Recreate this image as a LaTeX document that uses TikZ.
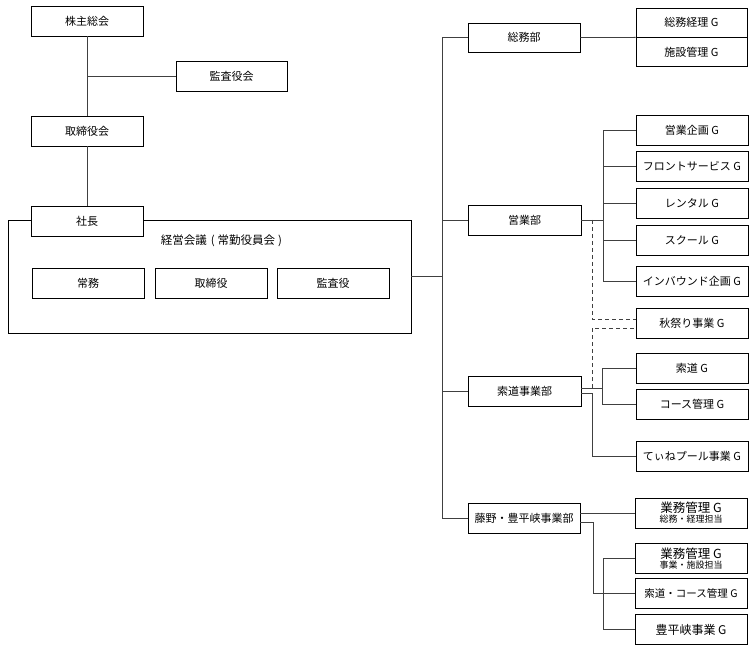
\documentclass[tikz,border=0pt]{standalone}
\usepackage{fontspec}
\setmainfont{Noto Sans CJK JP}
\begin{document}
\begin{tikzpicture}[x=1pt,y=-1pt,
  box/.style={draw=black,line width=0.8pt,fill=white,minimum width=112pt,minimum height=30pt,inner sep=0pt,font=\fontsize{11}{13}\selectfont},
  conn/.style={draw=black!75,line width=0.8pt},
  dconn/.style={conn,dash pattern=on 4pt off 3pt}]
\useasboundingbox (0,0) rectangle (755,652);
% left side
\node[draw=black,line width=0.8pt,minimum width=403pt,minimum height=113pt,inner sep=0pt] (kaigi) at (209.5,276.5) {};
\node[box] (kabu) at (87,21) {株主総会};
\node[box,minimum width=111pt] (kansakai) at (231.5,76) {監査役会};
\node[box] (torikai) at (87,131) {取締役会};
\node[box] (shacho) at (87,221) {社長};
\node[font=\fontsize{11.5}{13}\selectfont,inner sep=0pt] (kaigilabel) at (221.5,241) {経営会議\hspace{4pt}(\hspace{3pt}常勤役員会\hspace{3pt})};
\node[box] (jomu) at (88,283) {常務};
\node[box] (torishimari) at (211,283) {取締役};
\node[box] (kansayaku) at (333,283) {監査役};
\draw[conn] (kabu.south) -- (torikai.north);
\draw[conn] (kansakai.west) -- (kansakai.west -| kabu.south);
\draw[conn] (torikai.south) -- (shacho.north);
% departments
\node[box,minimum height=29pt] (soumu) at (524,37.5) {総務部};
\node[box,minimum width=113pt] (eigyo) at (524.5,220) {営業部};
\node[box,minimum width=113pt] (sakudobu) at (524.5,391) {索道事業部};
\node[box] (fujino) at (524,518) {藤野・豊平峡事業部};
\draw[conn] (soumu.west) -- ++(-25,0) coordinate (vtop) |- (fujino.west);
\draw[conn] (eigyo.west) -- (eigyo.west -| vtop);
\draw[conn] (sakudobu.west) -- (sakudobu.west -| vtop);
\draw[conn] (kaigi.east) -- (kaigi.east -| vtop);
% soumu groups
\node[box,minimum width=111pt,minimum height=29pt] (keiri) at (691.5,22.5) {総務経理 G};
\node[box,minimum width=111pt,minimum height=29pt] (shisetsu) at (691.5,52) {施設管理 G};
\draw[conn] (soumu.east) -- (keiri.south west);
% eigyo groups
\node[box] (e1) at (692,130) {営業企画 G};
\node[box] (e2) at (692,166) {フロントサービス G};
\node[box] (e3) at (692,203.5) {レンタル G};
\node[box] (e4) at (692,240.5) {スクール G};
\node[box] (e5) at (692,281) {インバウンド企画 G};
\node[box] (aki) at (692,323) {秋祭り事業 G};
\draw[conn] (e1.west) -- ++(-32,0) coordinate (ebus) |- (e5.west);
\draw[conn] (e2.west) -- (e2.west -| ebus);
\draw[conn] (e3.west) -- (e3.west -| ebus);
\draw[conn] (e4.west) -- (e4.west -| ebus);
\draw[conn] (eigyo.east) -- (eigyo.east -| ebus);
\draw[dconn] ([xshift=11pt]eigyo.east) |- ([yshift=4pt]aki.west);
% sakudo groups
\node[box] (sakudo) at (692,368.5) {索道 G};
\node[box] (course) at (692,404) {コース管理 G};
\node[box] (tine) at (692,456.5) {てぃねプール事業 G};
\draw[conn] (sakudo.west) -- ++(-33,0) coordinate (sbus) |- (course.west);
\draw[conn] ([yshift=3pt]sakudobu.east) -- ([yshift=3pt]sakudobu.east -| sbus);
\draw[conn] ([yshift=-2pt]sakudobu.east) -- ++(11,0) |- (tine.west);
\draw[dconn] ([xshift=11pt,yshift=3pt]sakudobu.east) |- ([yshift=-5pt]aki.west);
% fujino groups
\node[box,align=center] (g1) at (691,513) {{\fontsize{12.5}{13}\selectfont 業務管理 G}\\[-3pt]{\fontsize{9}{9}\selectfont 総務・経理担当}};
\node[box,align=center] (g2) at (691,558.5) {{\fontsize{12.5}{13}\selectfont 業務管理 G}\\[-3pt]{\fontsize{9}{9}\selectfont 事業・施設担当}};
\node[box,font=\fontsize{10.5}{13}\selectfont] (g3) at (691,593.5) {索道・コース管理 G};
\node[box,font=\fontsize{12}{13}\selectfont] (g4) at (691,629.5) {豊平峡事業 G};
\draw[conn] (fujino.east |- g1.west) -- (g1.west);
\draw[conn] ([yshift=-4pt]fujino.east) -- ++(13,0) |- (g3.west);
\draw[conn] (g2.west) -- ++(-31,0) |- (g4.west);
\end{tikzpicture}
\end{document}
